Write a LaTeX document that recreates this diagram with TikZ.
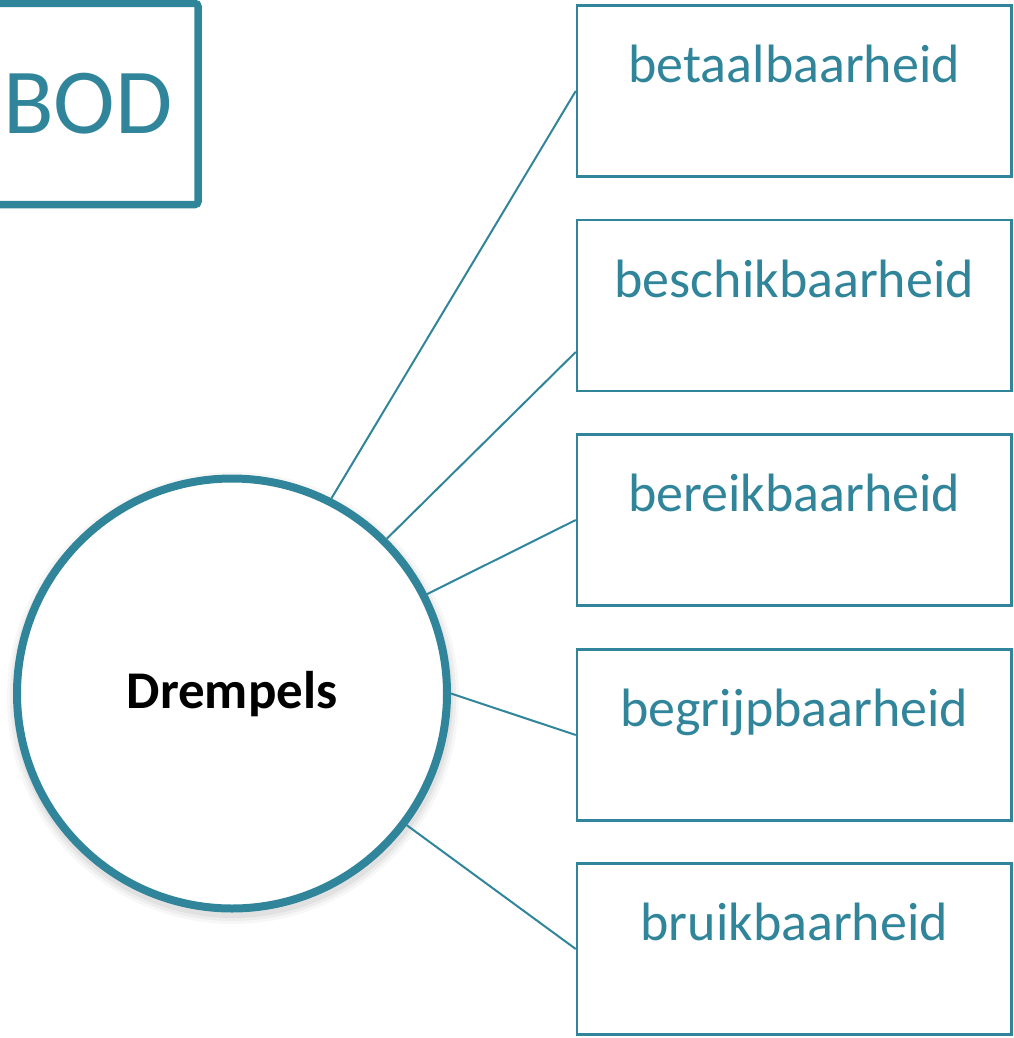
\documentclass[tikz,border=0pt]{standalone}
\usepackage{fontspec}
\setmainfont{Carlito}
\definecolor{tealc}{RGB}{49,133,155}
\begin{document}
\begin{tikzpicture}[x=1pt,y=-1pt,
  box/.style={draw=tealc, line width=2.5pt, minimum width=434.5pt, minimum height=171pt, inner sep=0pt, fill=white},
  lbl/.style={text=tealc, font=\fontsize{54}{60}\selectfont, anchor=base, inner sep=0pt},
  conn/.style={draw=tealc, line width=2pt},
  hub/.style={circle, draw=tealc, line width=8pt, fill=white, minimum size=430pt, inner sep=0pt, text height=29pt, text depth=0pt, font=\bfseries\fontsize{53}{60}\selectfont},
  bodbox/.style={draw=tealc, line width=7.5pt, rounded corners=3pt, minimum width=220pt, minimum height=201pt, inner sep=0pt, text=tealc, font=\fontsize{93}{100}\selectfont}]
\clip (0,0) rectangle (1013,1038);
\useasboundingbox (0,0) rectangle (1013,1038);
% soft shadow of the circle
\foreach \r/\o in {226/0.03,223/0.04,220/0.05}{
  \fill[black, opacity=\o] (233,698) circle (\r);
}
\node[bodbox] (bod) at (88,104) {BOD};
\node[hub] (c) at (232,693.5) {Drempels};
\node[box] (b1) at (794.25,91) {};
\node[box] (b2) at (794.25,305.5) {};
\node[box] (b3) at (794.25,520) {};
\node[box] (b4) at (794.25,735) {};
\node[box] (b5) at (794.25,949) {};
\node[lbl] (t1) at ([yshift=-78.5pt]b1.north) {betaalbaarheid};
\node[lbl] (t2) at ([yshift=-78.5pt]b2.north) {beschikbaarheid};
\node[lbl] (t3) at ([yshift=-78.5pt]b3.north) {bereikbaarheid};
\node[lbl] (t4) at ([yshift=-78.5pt]b4.north) {begrijpbaarheid};
\node[lbl] (t5) at ([yshift=-78.5pt]b5.north) {bruikbaarheid};
\coordinate (b2in) at ([yshift=-46.5pt]b2.west);
\draw[conn] (c.63) -- (b1.west);
\draw[conn] (c.45) -- (b2in);
\draw[conn] (c.27) -- (b3.west);
\draw[conn] (c.0.5) -- (b4.west);
\draw[conn] (c.-37) -- (b5.west);
\end{tikzpicture}
\end{document}
